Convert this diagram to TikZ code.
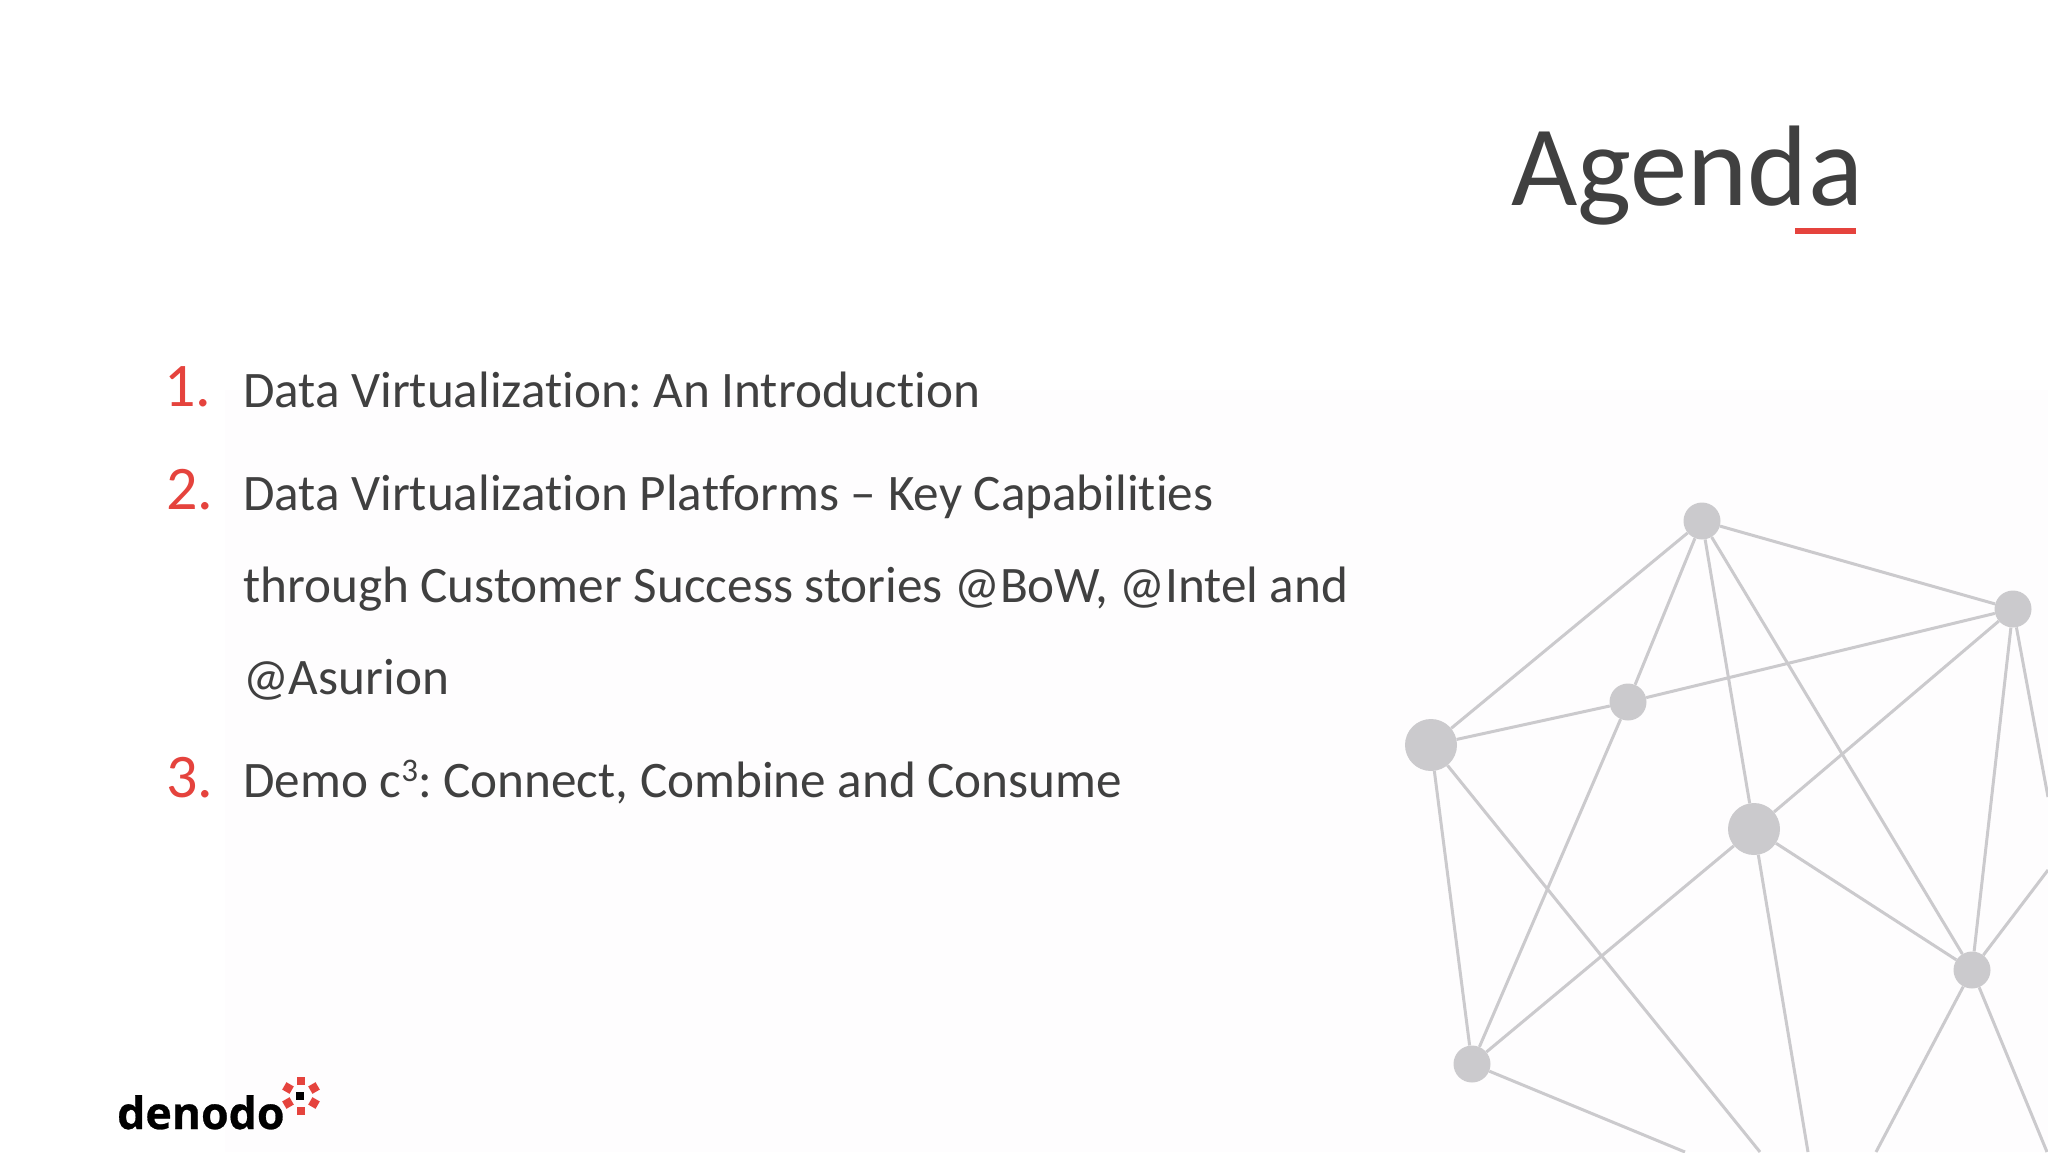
\documentclass[tikz,border=0pt]{standalone}
\usepackage{fontspec}
\setmainfont[RawFeature={-liga;-clig;-dlig}]{Carlito}
\newfontfamily\logofont[BoldFeatures={FakeBold=0.6}]{Open Sans}
\usepackage{xcolor}
\definecolor{inkgrey}{HTML}{404040}
\definecolor{accent}{HTML}{E5433D}
\definecolor{netgrey}{HTML}{CBCACD}
\definecolor{paper}{HTML}{FEFDFE}
\tikzset{
  bodytext/.style={anchor=base west,inner sep=0pt,text=inkgrey,font=\fontsize{51.2}{54}\selectfont},
  numtext/.style={anchor=base west,inner sep=0pt,text=accent,font=\fontsize{62}{66}\selectfont},
  hub/.style={circle,fill=netgrey,inner sep=0pt,minimum size=52pt},
  dot/.style={circle,fill=netgrey,inner sep=0pt,minimum size=37pt},
  link/.style={draw=netgrey,line width=3pt},
  redsq/.style={fill=accent,inner sep=0pt,minimum size=8.5pt},
  blacksq/.style={fill=black,inner sep=0pt,minimum size=7.5pt},
}
\begin{document}
\frenchspacing
\begin{tikzpicture}[x=1pt,y=-1pt]
\useasboundingbox (0,0) rectangle (2048,1152);
\fill[white] (0,0) rectangle (2048,1152);
\fill[paper] (225,390) rectangle (2048,1152);
\clip (0,0) rectangle (2048,1152);
% title
\node[anchor=base west,inner sep=0pt,text=inkgrey,font=\fontsize{114.6}{120}\selectfont] (title) at (1511,205) {Agenda};
\node[fill=accent,inner sep=0pt,minimum width=61pt,minimum height=6pt,anchor=north west] (rule) at (1795,228) {};
% agenda
\node[numtext] (n1) at (164,406) {1.};
\node[bodytext] (l1) at (243,407) {Data Virtualization: An Introduction};
\node[numtext] (n2) at (166,509) {2.};
\node[bodytext] (l2) at (243,510) {Data Virtualization Platforms – Key Capabilities};
\node[bodytext] (l3) at (243,602) {through Customer Success stories @BoW, @Intel and};
\node[bodytext] (l4) at (243,694) {@Asurion};
\node[numtext] (n3) at (166,797) {3.};
\node[bodytext] (l5) at (243,797) {Demo c\raisebox{0.31em}{\fontsize{33}{33}\selectfont 3}: Connect, Combine and Consume};
% network
\node[dot] (top) at (1702,521) {};
\node[dot] (right) at (2013,609) {};
\node[dot] (mid) at (1628,702) {};
\node[hub] (left) at (1431,745) {};
\node[hub] (center) at (1754,829) {};
\node[dot] (lr) at (1972,970) {};
\node[dot] (bl) at (1472,1064) {};
\coordinate (e1) at (2048,797);
\coordinate (e2) at (2048,870);
\coordinate (e3) at (1685,1152);
\coordinate (e4) at (1760,1152);
\coordinate (e5) at (1808,1152);
\coordinate (e6) at (1876,1152);
\coordinate (e7) at (2047,1152);
\foreach \a/\b in {left/top,top/mid,top/center,top/lr,top/right,right/mid,mid/left,right/center,right/lr,right/e1,center/lr,center/bl,center/e5,left/bl,left/e4,mid/bl,bl/e3,lr/e2,lr/e6,lr/e7}
  \draw[link] (\a) -- (\b);
% logo
\node[anchor=base west,inner sep=0pt,text=black,font=\logofont\bfseries\fontsize{44.6}{50}\selectfont] (logo) at (117,1129) {denodo};
\node[blacksq] (s0) at (300,1096) {};
\node[redsq] (s1) at (301,1081) {};
\node[redsq,rotate=30] (s2) at (314,1088) {};
\node[redsq,rotate=-30] (s3) at (314,1103) {};
\node[redsq] (s4) at (301,1111) {};
\node[redsq,rotate=30] (s5) at (288,1103) {};
\node[redsq,rotate=-30] (s6) at (288,1088) {};
\end{tikzpicture}
\end{document}
